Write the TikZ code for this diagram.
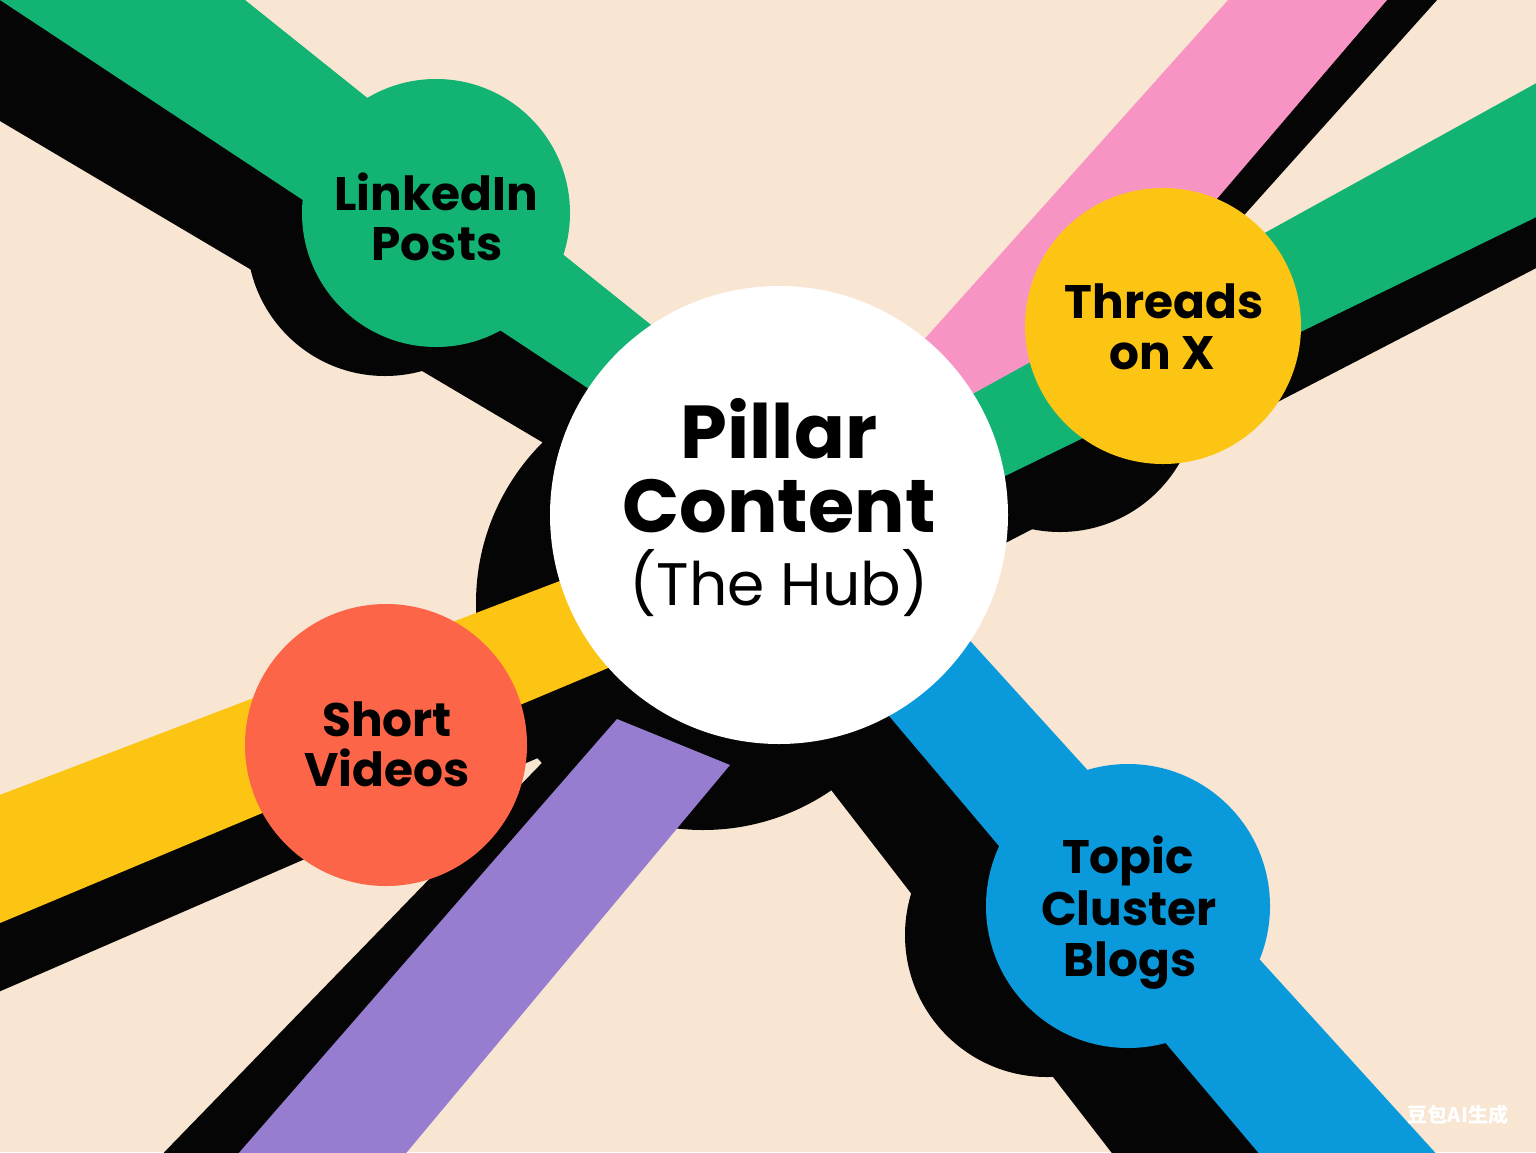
\documentclass[tikz,border=0pt]{standalone}
\usepackage{fontspec}
\setmainfont{Poppins}
\newfontfamily\cjk{Noto Sans CJK SC}
\definecolor{bg}{HTML}{F8E6D2}
\definecolor{grn}{HTML}{12B373}
\definecolor{pnk}{HTML}{F794C4}
\definecolor{ylw}{HTML}{FCC514}
\definecolor{org}{HTML}{FD6548}
\definecolor{prp}{HTML}{967DD0}
\definecolor{blu}{HTML}{0A9ADB}
\definecolor{blk}{HTML}{050505}
\begin{document}
\begin{tikzpicture}[x=0.5pt,y=-0.5pt,
  disc/.style={circle, inner sep=0pt, outer sep=0pt, draw=none},
  hubtxt/.style={font=\fontsize{37.5}{37.5}\selectfont\bfseries, anchor=base, inner sep=0pt},
  hubsub/.style={font=\fontsize{30}{30}\selectfont, anchor=base, inner sep=0pt},
  sattxt/.style={font=\fontsize{23.5}{23.5}\selectfont\bfseries, anchor=base, inner sep=0pt},
]
\useasboundingbox (0,0) rectangle (1536,1152);
\fill[bg] (0,0) rectangle (1536,1152);
\begin{scope}
\clip (0,0) rectangle (1536,1152);
% ---------- black shadow layer ----------
\fill[blk] (-100,-80) -- (650,400) -- (650,506) -- (-100,61.8) -- cycle;
\node[disc, fill=blk, minimum size=138pt] (lkS) at (385,238) {};
\fill[blk] (1404,-20) -- (1455,-20) -- (1168,300) -- (1129,300) -- cycle;
\fill[blk] (1600,120) -- (1600,235) -- (990,551) -- (990,420) -- cycle;
\begin{scope}
\clip (1600,48) -- (900,434) -- (900,700) -- (1600,700) -- cycle;
\node[disc, fill=blk, minimum size=138pt] (thS) at (1060,394) {};
\end{scope}
\node[disc, fill=blk, minimum size=227pt] (hubS) at (703,603) {};
\fill[blk] (-50,881) -- (600,608) -- (600,731) -- (-50,1013) -- cycle;
\fill[blk] (147,1170) -- (603,700) -- (680,700) -- (285,1170) -- cycle;
\fill[blk] (777,720) -- (1125,1170) -- (1300,1170) -- (900,700) -- cycle;
\node[disc, fill=blk, minimum size=142pt] (blS) at (1047,935) {};
% ---------- coloured bands ----------
\fill[pnk] (1246,-20) -- (1404,-20) -- (1045,400) -- (870,400) -- cycle;
\fill[grn] (1600,48) -- (1600,186) -- (960,498) -- (960,401) -- cycle;
\fill[grn] (-30,-19.8) -- (220,-20) -- (700,364) -- (680,449) -- cycle;
\fill[ylw] (-50,814) -- (620,558) -- (620,663) -- (-50,944) -- cycle;
\fill[prp] (617,719) -- (730,765) -- (392,1170) -- (224,1170) -- cycle;
\fill[blu] (791,600) -- (933,600) -- (1451,1170) -- (1273,1170) -- cycle;
% ---------- coloured discs ----------
\node[disc, fill=grn, minimum size=134pt] (lk) at (436,213) {};
\node[disc, fill=ylw, minimum size=138pt] (th) at (1163,326) {};
\node[disc, fill=org, minimum size=141pt] (sv) at (386,745) {};
\node[disc, fill=blu, minimum size=142pt] (tc) at (1128,906) {};
\node[disc, fill=white, minimum size=229pt] (hub) at (779,515) {};
\end{scope}
% ---------- texts ----------
\node[hubtxt] (hub1) at (779,458) {Pillar};
\node[hubtxt] (hub2) at (779,532) {Content};
\node[hubsub] (hub3) at (779,605) {(The Hub)};
\node[sattxt] (lk1) at (436,210) {LinkedIn};
\node[sattxt] (lk2) at (437,260) {Posts};
\node[sattxt] (th1) at (1164,318) {Threads};
\node[sattxt] (th2) at (1162,369) {on X};
\node[sattxt] (sv1) at (387,736) {Short};
\node[sattxt] (sv2) at (387,786) {Videos};
\node[sattxt] (tc1) at (1128,873) {Topic};
\node[sattxt] (tc2) at (1129,925) {Cluster};
\node[sattxt] (tc3) at (1130,976) {Blogs};
\node[font=\cjk\fontsize{10}{10}\selectfont\bfseries, text=white, inner sep=0pt] (wm) at (1458,1115) {豆包AI生成};
\end{tikzpicture}
\end{document}
